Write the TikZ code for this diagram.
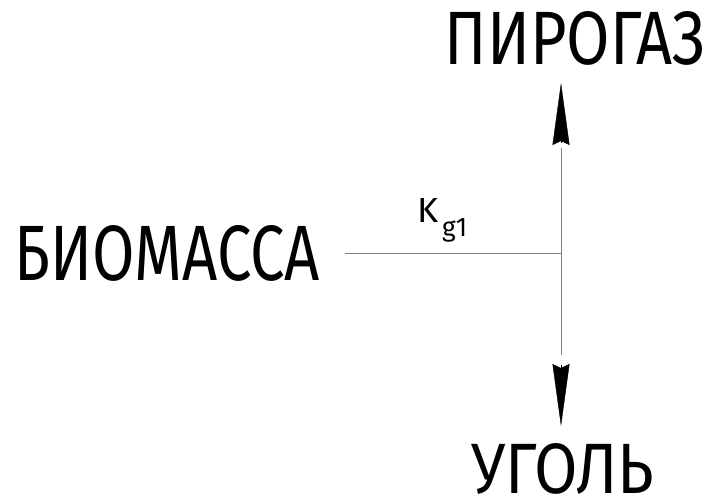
\documentclass[tikz,border=0pt]{standalone}
\usepackage{fontspec}
\setmainfont{Fira Sans}
\usetikzlibrary{arrows.meta}
\begin{document}
\begin{tikzpicture}[x=1pt,y=-1pt,
  lbl/.style={inner sep=0pt,anchor=center},
  conn/.style={draw=black!50, line width=0.9pt},
  headtip/.style={draw=black, line width=0.4pt, -{Stealth[length=62pt,width=17pt,inset=4pt,fill=black]}}]
\useasboundingbox (0,0) rectangle (712,500);
\node[lbl] (bio) at (167.5,253) {\resizebox{305pt}{55pt}{БИОМАССА}};
\node[lbl] (gas) at (575,38.5) {\resizebox{260pt}{53pt}{ПИРОГАЗ}};
\node[lbl] (coal) at (563,469) {\resizebox{182pt}{50pt}{УГОЛЬ}};
\node[lbl, anchor=south west] (k) at (417,223) {\resizebox{21pt}{24pt}{K}};
\node[lbl, anchor=north west] (ksub) at (442,218) {\resizebox{25pt}{18pt}{g1}};
\coordinate (hs) at (345,253);
\coordinate (j) at (561,253);
\coordinate (vtop) at (561,148);
\coordinate (vbot) at (561,355);
\coordinate (gbase) at (561,143);
\coordinate (gtip) at (561,83);
\coordinate (cbase) at (561,365);
\coordinate (ctip) at (561,426);
\draw[conn] (hs) -- (j);
\draw[conn] (vtop) -- (vbot);
\draw[headtip] (gbase) -- (gtip);
\draw[headtip] (cbase) -- (ctip);
\end{tikzpicture}
\end{document}
